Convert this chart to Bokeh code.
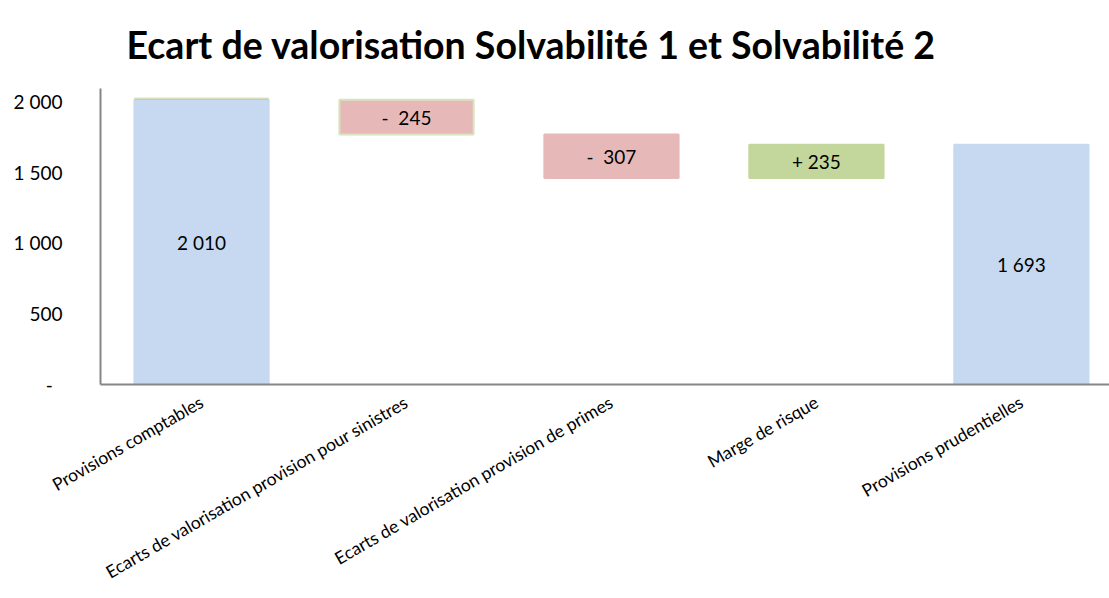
import math
from bokeh.plotting import figure
from bokeh.models import Range1d, FixedTicker, Title, ColumnDataSource
from bokeh.core.properties import value
from bokeh.embed import file_html
from bokeh.resources import INLINE

categories = [
    "Provisions comptables",
    "Ecarts de valorisation provision pour sinistres",
    "Ecarts de valorisation provision de primes",
    "Marge de risque",
    "Provisions prudentielles",
]
values = [2010, -245, -307, 235, 1693]
kinds = ["total", "delta", "delta", "delta", "total"]
bar_labels = ["2 010", "-\u00a0\u00a0245", "-\u00a0\u00a0307", "+ 235", "1 693"]
y_ticks = [0, 500, 1000, 1500, 2000]
y_tick_labels = ["-\u00a0\u00a0", "500", "1 000", "1 500", "2 000"]

BLUE = "#c6d9f1"
PINK = "#e6b9b8"
GREEN = "#c3d69b"
FONT = "Lato"

# waterfall geometry from the values
bottoms, tops, colors = [], [], []
running = 0
for v, k in zip(values, kinds):
    if k == "total":
        bottoms.append(0)
        tops.append(v)
        running = v
    else:
        start = running
        running = running + v
        bottoms.append(min(start, running))
        tops.append(max(start, running))
    if k == "total":
        colors.append(BLUE)
    else:
        colors.append(PINK if v < 0 else GREEN)

xs = list(range(len(categories)))
src = ColumnDataSource(dict(
    x=xs, bottom=bottoms, top=tops, color=colors,
    mid=[(b + t) / 2 for b, t in zip(bottoms, tops)], label=bar_labels,
    lc=["#d7e4bd" if i == 1 else c for i, c in enumerate(colors)],
))

p = figure(width=1109, height=598, output_backend="svg", toolbar_location=None,
           x_range=Range1d(-0.493, 4.43), y_range=Range1d(0, 2090),
           min_border_left=100, min_border_right=0, min_border_bottom=214,
           min_border_top=88)
p.title = None
p.add_layout(Title(text="Ecart de valorisation Solvabilité 1 et Solvabilité 2",
                   text_font=FONT, text_font_size="37.5px", text_font_style="bold",
                   text_color="#000000", align="left", offset=26, standoff=40,
                   vertical_align="top"), "above")

p.vbar(x="x", bottom="bottom", top="top", width=0.655, fill_color="color",
       line_color="lc", line_width=2, source=src)
# thin accents on top of the first bar
p.segment(x0=[xs[0] - 0.3275], x1=[xs[0] + 0.3275], y0=[tops[0] + 9], y1=[tops[0] + 9],
          line_color="#d7e4bd", line_width=2)
p.segment(x0=[xs[0] - 0.3275], x1=[xs[0] + 0.3275], y0=[tops[0] + 3], y1=[tops[0] + 3],
          line_color=PINK, line_width=1)

p.text(x="x", y="mid", text="label", source=src, text_align="center",
       text_baseline="middle", text_font=value(FONT), text_font_size="19px",
       text_color="#000000")

p.xgrid.visible = False
p.ygrid.visible = False
p.outline_line_color = None
p.background_fill_color = "white"
p.border_fill_color = "white"

p.xaxis.ticker = FixedTicker(ticks=xs)
p.xaxis.major_label_overrides = {i: c for i, c in enumerate(categories)}
p.xaxis.major_label_orientation = math.pi / 6
p.xaxis.major_label_text_font = FONT
p.xaxis.major_label_text_font_size = "17.5px"
p.xaxis.major_label_text_color = "#000000"
p.xaxis.major_label_standoff = 16
p.xaxis.major_tick_out = 0
p.xaxis.major_tick_in = 0
p.xaxis.major_tick_line_color = None
p.xaxis.minor_tick_line_color = None
p.xaxis.axis_line_color = "#868686"
p.xaxis.axis_line_width = 2

p.yaxis.ticker = FixedTicker(ticks=y_ticks)
p.yaxis.major_label_overrides = {t: l for t, l in zip(y_ticks, y_tick_labels)}
p.yaxis.major_label_text_font = FONT
p.yaxis.major_label_text_font_size = "19px"
p.yaxis.major_label_text_color = "#000000"
p.yaxis.major_label_standoff = 38
p.yaxis.major_tick_out = 0
p.yaxis.major_tick_in = 0
p.yaxis.major_tick_line_color = None
p.yaxis.minor_tick_line_color = None
p.yaxis.axis_line_color = "#868686"
p.yaxis.axis_line_width = 2

open("out.html", "w").write(file_html(p, INLINE))
